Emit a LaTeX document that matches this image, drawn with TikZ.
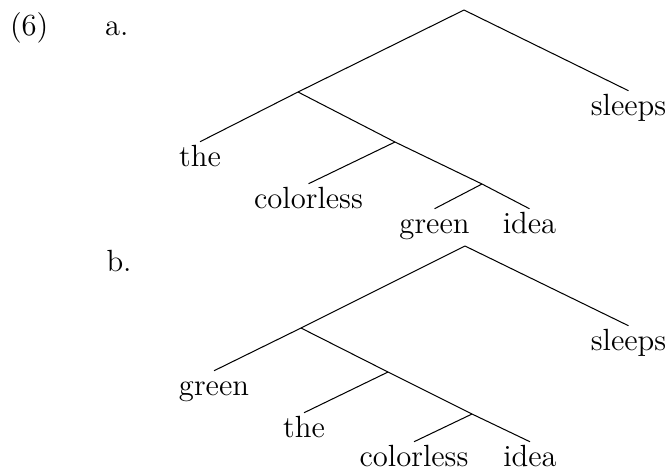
\documentclass[tikz,border=0pt]{standalone}
\begin{document}
\begin{tikzpicture}[x=0.3915pt,y=-0.3915pt,
  leaf/.style={anchor=base,inner sep=1pt,text height=8.3pt,text depth=2.4pt,font=\fontsize{12}{14.4}\selectfont},
  lbl/.style={anchor=base west,inner sep=0pt,font=\fontsize{12}{14.4}\selectfont},
  edge/.style={line width=0.4pt}]
\useasboundingbox (0,0) rectangle (668,470);
% labels
\node[lbl] (num) at (9.5,35) {(6)};
\node[lbl] (la) at (104.5,35) {a.};
\node[lbl] (lb) at (106,271) {b.};
% tree a
\coordinate (a0) at (464,10);
\coordinate (a1) at (298,92);
\coordinate (a2) at (395,142);
\coordinate (a3) at (482,184);
\node[leaf] (asleeps) at (628.5,115) {sleeps};
\node[leaf] (athe) at (200,166) {the};
\node[leaf] (acolorless) at (308.5,208) {colorless};
\node[leaf] (agreen) at (434.5,233) {green};
\node[leaf] (aidea) at (529.5,233) {idea};
\draw[edge] (a0) -- (a1);
\draw[edge] (a0) -- (asleeps.north);
\draw[edge] (a1) -- (athe.north);
\draw[edge] (a1) -- (a2);
\draw[edge] (a2) -- (acolorless.north);
\draw[edge] (a2) -- (a3);
\draw[edge] (a3) -- (agreen.north);
\draw[edge] (a3) -- (aidea.north);
% tree b
\coordinate (b0) at (465,246);
\coordinate (b1) at (301,328);
\coordinate (b2) at (388,372);
\coordinate (b3) at (472,414);
\node[leaf] (bsleeps) at (628.5,350) {sleeps};
\node[leaf] (bgreen) at (214,395) {green};
\node[leaf] (bthe) at (304,437) {the};
\node[leaf] (bcolorless) at (414,466) {colorless};
\node[leaf] (bidea) at (530,466) {idea};
\draw[edge] (b0) -- (b1);
\draw[edge] (b0) -- (bsleeps.north);
\draw[edge] (b1) -- (bgreen.north);
\draw[edge] (b1) -- (b2);
\draw[edge] (b2) -- (bthe.north);
\draw[edge] (b2) -- (b3);
\draw[edge] (b3) -- (bcolorless.north);
\draw[edge] (b3) -- (bidea.north);
\end{tikzpicture}
\end{document}
